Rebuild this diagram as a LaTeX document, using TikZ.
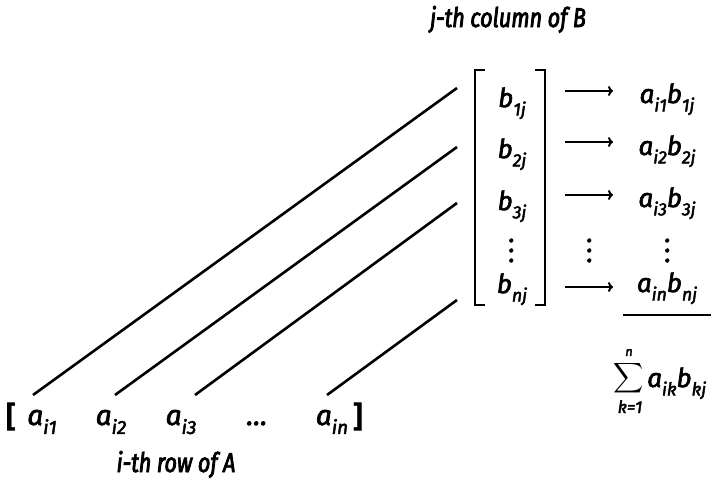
\documentclass[tikz,border=0pt]{standalone}
\usepackage{fontspec}
\setmainfont{Fira Sans}[ItalicFeatures={FakeBold=2.5}]
\newfontfamily\lblfont{Fira Sans}[FakeStretch=0.8, ItalicFeatures={FakeBold=3}]
\usepackage{graphicx}
\usetikzlibrary{calc,arrows.meta}
\newcommand\ent[2]{#1\raisebox{-0.32em}{\scalebox{0.68}{#2}}}
\newcommand\vdts{\vbox{\baselineskip=10pt\hbox{.}\hbox{.}\hbox{.}}}
\begin{document}
\begin{tikzpicture}[x=1pt,y=-1pt,
  txt/.style={font=\lblfont\fontsize{27}{30}\selectfont\itshape, inner sep=0pt, anchor=base},
  col/.style={font=\fontsize{26}{30}\selectfont\itshape, inner sep=0pt, anchor=base},
  roww/.style={font=\fontsize{28}{32}\selectfont\itshape, inner sep=0pt, anchor=base},
  lim/.style={font=\fontsize{17}{18}\selectfont\itshape, inner sep=0pt, anchor=base},
  link/.style={line width=2.6pt},
  brk/.style={line width=2.4pt},
  arr/.style={line width=2pt, -{To[length=5pt,width=10pt]}},
  rulel/.style={line width=2.4pt}]
\fill[white] (0,0) rectangle (711,482);
\useasboundingbox (0,0) rectangle (711,482);

% title
\node[txt] (title) at (508,27) {j-th column of B};

% column of B
\node[col] (b1) at (512,107) {\ent{b}{1j}};
\node[col] (b2) at (512,158) {\ent{b}{2j}};
\node[col] (b3) at (512,210) {\ent{b}{3j}};
\node[col] (bd) at (512,262) {\vdts};
\node[col] (bn) at (512,293) {\ent{b}{nj}};
\draw[brk] (485,70) -- (475,70) -- (475,305) -- (485,305);
\draw[brk] (535,70) -- (545,70) -- (545,305) -- (535,305);

% products
\node[col] (p1) at (667,103) {\ent{a}{i1}\ent{b}{1j}};
\node[col] (p2) at (667,155) {\ent{a}{i2}\ent{b}{2j}};
\node[col] (p3) at (667,207) {\ent{a}{i3}\ent{b}{3j}};
\node[col] (pd) at (668,262) {\vdts};
\node[col] (pn) at (667,292) {\ent{a}{in}\ent{b}{nj}};

% arrows
\coordinate (s1) at (565,91);  \coordinate (e1) at (613,91);
\coordinate (s2) at (565,142); \coordinate (e2) at (613,142);
\coordinate (s3) at (565,195); \coordinate (e3) at (613,195);
\coordinate (sn) at (565,287); \coordinate (en) at (613,287);
\draw[arr] (s1) -- (e1);
\draw[arr] (s2) -- (e2);
\draw[arr] (s3) -- (e3);
\draw[arr] (sn) -- (en);
\node[col] (ad) at (590,262) {\vdts};

% sum
\draw[rulel] (623,315) -- (711,315);
\node[inner sep=0pt] (sig) at (629,378) {\scalebox{2.1}{$\displaystyle\sum$}};
\node[lim, font=\fontsize{13}{14}\selectfont\itshape] (sup) at (629,356) {n};
\node[lim] (sub) at (630,413) {k=1};
\node[col, anchor=base west] (sum) at (647,387) {\ent{a}{ik}\ent{b}{kj}};

% row of A
\node[roww, font=\fontsize{30}{32}\selectfont\bfseries] (lb) at (11,427) {[};
\node[roww] (a1) at (42,425) {\ent{a}{i1}};
\node[roww] (a2) at (111,425) {\ent{a}{i2}};
\node[roww] (a3) at (181,425) {\ent{a}{i3}};
\node[roww] (ad2) at (257,425) {\dots};
\node[roww] (an) at (332,425) {\ent{a}{in}};
\node[roww, font=\fontsize{30}{32}\selectfont\bfseries] (rb) at (358,427) {]};
\node[txt] (rowlab) at (176,472) {i-th row of A};

% links
\coordinate (r1) at (33,395);  \coordinate (c1) at (457,88);
\coordinate (r2) at (115,395); \coordinate (c2) at (457,147);
\coordinate (r3) at (195,395); \coordinate (c3) at (457,203);
\coordinate (r4) at (327,395); \coordinate (c4) at (457,300);
\draw[link] (r1) -- (c1);
\draw[link] (r2) -- (c2);
\draw[link] (r3) -- (c3);
\draw[link] (r4) -- (c4);
\end{tikzpicture}
\end{document}
